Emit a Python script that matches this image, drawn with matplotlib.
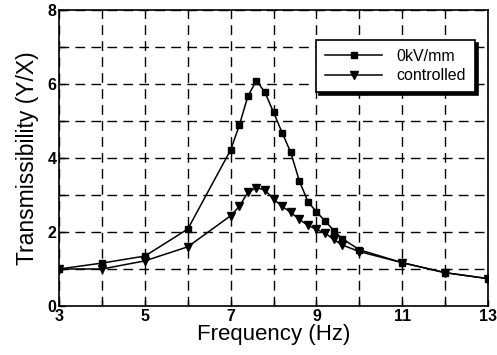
import matplotlib.pyplot as plt
import numpy as np

plt.rcParams['font.family'] = ['Liberation Sans', 'DejaVu Sans']

# Дані
freq = [3, 4, 5, 6, 7, 7.2, 7.4, 7.6, 7.8, 8.0, 8.2, 8.4, 8.6, 8.8,
        9.0, 9.2, 9.4, 9.6, 10, 11, 12, 13]
t_0kv = [1.0, 1.16, 1.35, 2.08, 4.22, 4.88, 5.67, 6.09, 5.77, 5.23, 4.68,
         4.15, 3.38, 2.82, 2.54, 2.30, 2.04, 1.82, 1.52, 1.17, 0.90, 0.74]
t_ctrl = [1.0, 1.0, 1.22, 1.6, 2.44, 2.69, 3.07, 3.2, 3.13, 2.89, 2.69,
          2.53, 2.34, 2.18, 2.07, 1.97, 1.80, 1.65, 1.47, 1.17, 0.90, 0.74]

fig = plt.figure(figsize=(4.97, 3.55), dpi=100)
ax = fig.add_axes([0.119, 0.138, 0.863, 0.834])

ax.plot(freq, t_0kv, 'k-', marker='s', markersize=4.5, linewidth=1.1, label='0kV/mm')
ax.plot(freq, t_ctrl, 'k-', marker='v', markersize=6, linewidth=1.1, label='controlled')

ax.set_xlim(3, 13)
ax.set_ylim(0, 8)
ax.set_xticks(np.arange(3, 14, 1), minor=True)
ax.set_xticks([3, 5, 7, 9, 11, 13])
ax.set_yticks(np.arange(0, 9, 1), minor=True)
ax.set_yticks([0, 2, 4, 6, 8])
ax.tick_params(which='both', direction='in', length=4, width=1, pad=2)
ax.tick_params(which='major', labelsize=11.5)
for lab in ax.get_xticklabels() + ax.get_yticklabels():
    lab.set_fontweight('bold')

ax.grid(which='both', color='k', linestyle=(0, (7, 4.5)), linewidth=1)
for s in ax.spines.values():
    s.set_linewidth(1.2)

ax.set_xlabel('Frequency (Hz)', fontsize=16, labelpad=0)
ax.set_ylabel('Transmissibility (Y/X)', fontsize=16.5, labelpad=6)

leg = ax.legend(loc='upper right', bbox_to_anchor=(0.988, 0.926), numpoints=1,
                fancybox=False, shadow={'color': 'k', 'alpha': 1},
                edgecolor='k', framealpha=1,
                fontsize=11.5, handlelength=3.6, handletextpad=0.9,
                borderpad=0.55, labelspacing=0.3)
leg.get_frame().set_linewidth(1.2)

fig.savefig('out.png', dpi=100)
